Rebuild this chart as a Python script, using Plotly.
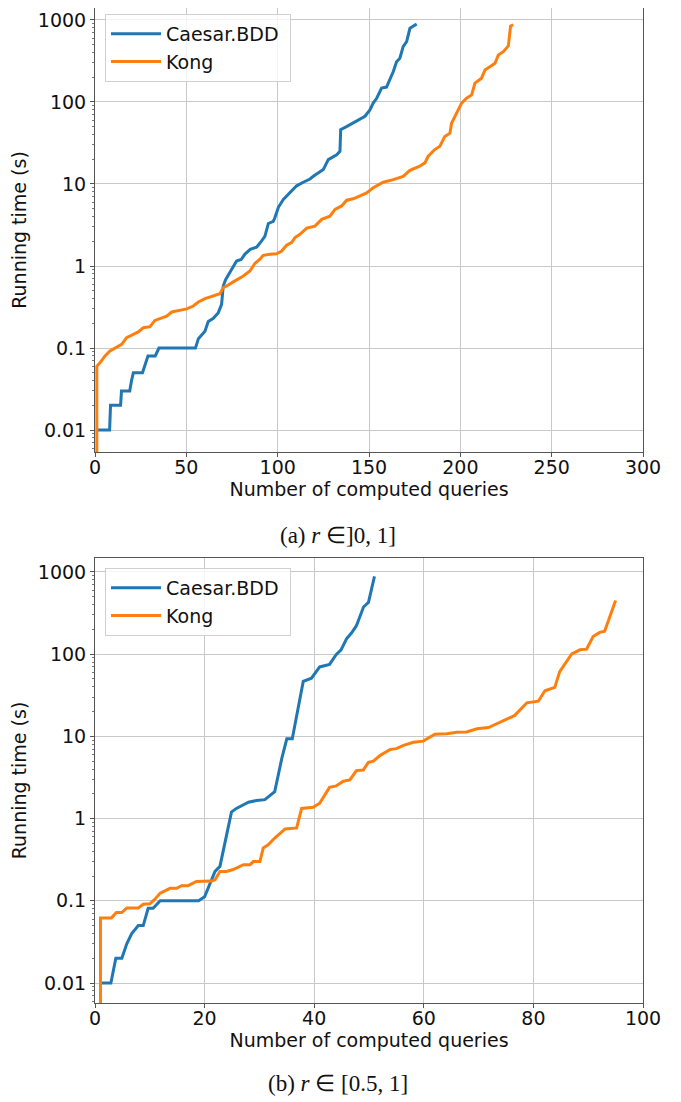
import plotly.graph_objects as go
from plotly.subplots import make_subplots

# ---- data ----
# (a) r in ]0,1]
a_caesar_x = [1, 8, 8.5, 14, 14.5, 19, 20, 21, 26, 27, 28, 29, 33, 35, 55, 56.6, 60.2, 62, 64.8, 67.5,
              69.3, 70.2, 71.5, 73.9, 75.5, 77.5, 80, 82.1, 85, 88.5, 91, 93, 94.9, 97.6, 98.5, 100.4,
              103.1, 106.7, 110.4, 114, 117.7, 119.5, 125, 127.7, 132.3, 134.1, 134.5, 137.7, 143.2,
              147.8, 150.5, 152.3, 154.2, 156.9, 159.6, 161.4, 163.3, 165.1, 166.9, 168.7, 170.6,
              172.4, 174.2, 176.1]
a_caesar_y = [0.01, 0.01, 0.02, 0.02, 0.03, 0.03, 0.04, 0.05, 0.05, 0.06, 0.07, 0.08, 0.08, 0.1, 0.1,
              0.13, 0.16, 0.21, 0.23, 0.27, 0.34, 0.57, 0.68, 0.83, 0.95, 1.15, 1.2, 1.4, 1.6, 1.7,
              2.0, 2.3, 3.3, 3.5, 3.9, 5.2, 6.5, 7.9, 9.5, 10.5, 11.5, 12.4, 15, 19.8, 22.7, 25, 46,
              50, 58, 67, 80, 97, 111, 148, 152, 186, 235, 310, 342, 473, 544, 792, 845, 895]

a_kong_x = [1, 1, 2.7, 5.5, 8.2, 11.9, 14.6, 17.3, 20.1, 23.7, 26.5, 30.1, 32.8, 35.6, 39.2, 42, 46.5,
            50.2, 53.8, 56.6, 60.2, 64.8, 68.4, 70.2, 72.1, 75.7, 78.4, 81.2, 84.8, 87.6, 90.3, 92.1,
            95.8, 99.4, 102.2, 104.9, 107.6, 109.5, 112.2, 115.9, 120.4, 124.1, 128.6, 131.4, 135,
            137.8, 141.4, 145, 148.7, 152.3, 157.8, 163.3, 168.7, 172.4, 177.8, 180.6, 182.4, 186,
            188.8, 191.5, 194.3, 195.2, 197.9, 200.7, 203.4, 206.2, 208, 211.6, 213.5, 216.2, 219,
            220.8, 223.5, 226.3, 227.5, 229]
a_kong_y = [0.001, 0.060, 0.066, 0.080, 0.092, 0.103, 0.111, 0.134, 0.143, 0.157, 0.177, 0.182, 0.217,
            0.228, 0.245, 0.275, 0.29, 0.30, 0.325, 0.364, 0.40, 0.43, 0.46, 0.545, 0.57, 0.64, 0.69,
            0.755, 0.87, 1.08, 1.21, 1.35, 1.39, 1.41, 1.52, 1.79, 1.93, 2.22, 2.43, 2.9, 3.06, 3.7,
            4.05, 4.9, 5.4, 6.35, 6.6, 7.1, 7.8, 9.0, 10.5, 11.3, 12.4, 14.7, 16.5, 18.1, 21.8, 26.3,
            28.9, 38, 41.7, 55, 73, 97, 111, 122, 170, 195, 246, 270, 297, 375, 411, 483, 845, 870]

# (b) r in [0.5,1]
b_caesar_x = [1, 2.9, 3.8, 4.9, 5.8, 6.7, 7.9, 8.8, 9.7, 10.6, 11.9, 18.9, 20, 21, 21.9, 22.8, 24, 24.9,
              25.8, 26.8, 28, 29.5, 31, 32.8, 34.1, 35, 36, 38, 39.5, 41, 42.8, 44, 44.9, 45.9, 46.8,
              47.7, 49, 49.9, 51]
b_caesar_y = [0.01, 0.01, 0.02, 0.02, 0.03, 0.04, 0.05, 0.05, 0.081, 0.081, 0.1, 0.1, 0.112, 0.164,
              0.228, 0.262, 0.61, 1.2, 1.33, 1.43, 1.58, 1.66, 1.7, 2.13, 5.45, 9.35, 9.35, 46.6, 51,
              70, 75, 98.6, 113, 154, 181, 222, 375, 427, 885]

b_kong_x = [1, 1, 3, 3.9, 4.9, 5.8, 7.9, 8.8, 10, 10.9, 11.9, 13.7, 14.9, 15.8, 17, 18.5, 21.3, 21.9,
            22.8, 24, 25.2, 27.1, 28.3, 28.9, 30.1, 30.7, 31.6, 32.8, 34.7, 36.8, 37.7, 39.8, 41,
            42.8, 44, 45.3, 46.5, 47.7, 48.96, 49.9, 50.8, 52, 53.8, 55, 56.3, 58.1, 59.9, 62, 64.2,
            66, 67.8, 69.7, 71.8, 73.3, 75.1, 76.6, 78.8, 80.9, 82.1, 83.9, 84.8, 87, 88.5, 89.7,
            90.9, 92.1, 93, 95]
b_kong_y = [0.001, 0.062, 0.062, 0.072, 0.072, 0.082, 0.082, 0.091, 0.092, 0.104, 0.124, 0.142, 0.142,
            0.153, 0.153, 0.172, 0.174, 0.18, 0.228, 0.228, 0.24, 0.275, 0.275, 0.30, 0.30, 0.44,
            0.48, 0.58, 0.75, 0.77, 1.33, 1.37, 1.54, 2.4, 2.5, 2.85, 2.95, 3.84, 3.9, 4.85, 5.0,
            5.85, 6.9, 7.1, 7.77, 8.5, 8.75, 10.6, 10.8, 11.2, 11.3, 12.4, 12.8, 14.3, 16.4, 18,
            25.6, 26.8, 35.9, 39.4, 61.4, 101, 113, 115, 164, 184, 190, 450]

y_tickvals = [0.01, 0.1, 1, 10, 100, 1000]
y_ticktext = ["0.01", "0.1", "1", "10", "100", "1000"]
series_names = ["Caesar.BDD", "Kong"]
captions = ["(a) <i>r</i> ∈]0, 1]", "(b) <i>r</i> ∈ [0.5, 1]"]

BLUE = "#1f77b4"
ORANGE = "#ff7f0e"
FONT = "DejaVu Sans"

# page has an 8px body margin: figure is drawn offset by (8, 8)
OFF = 8
W, H = 681 - OFF, 1102 - OFF
ML, MR, MT = 95 - OFF, 38, 0
MB = H - (1003 - OFF)          # bottom of lower plot at page y=1003
PH = H - MT - MB
PW = W - ML - MR


def py(y_page):
    return (H - MB - (y_page - OFF)) / PH


def px(x_page):
    return (x_page - OFF - ML) / PW


minor_vals = [m * 10 ** e for e in range(-3, 4) for m in range(2, 10)]

fig = make_subplots(rows=2, cols=1)
fig.update_layout(
    yaxis=dict(domain=[py(452), 1.0]),
    yaxis2=dict(domain=[0.0, py(558)]),
)

panels = [
    (1, a_caesar_x, a_caesar_y, a_kong_x, a_kong_y, "legend"),
    (2, b_caesar_x, b_caesar_y, b_kong_x, b_kong_y, "legend2"),
]
for row, cx, cy, kx, ky, leg in panels:
    fig.add_trace(go.Scatter(x=cx, y=cy, mode="lines", name=series_names[0] + "\u00a0",
                             line=dict(color=BLUE, width=3), legend=leg), row=row, col=1)
    fig.add_trace(go.Scatter(x=kx, y=ky, mode="lines", name=series_names[1],
                             line=dict(color=ORANGE, width=3), legend=leg), row=row, col=1)

common_x = dict(showgrid=True, gridcolor="#c8c8c8", gridwidth=1, showline=True, mirror=True,
                linecolor="#555", linewidth=1, ticks="outside", ticklen=4, tickcolor="#555",
                zeroline=False, tickfont=dict(family=FONT, size=19, color="#111"),
                ticklabelstandoff=-6,
                title=dict(text="Number of computed queries", font=dict(family=FONT, size=19, color="#111"),
                           standoff=0))
common_y = dict(type="log", tickvals=y_tickvals, ticktext=y_ticktext,
                showgrid=True, gridcolor="#c8c8c8", gridwidth=1, showline=True, mirror=True,
                linecolor="#555", linewidth=1, ticks="outside", ticklen=4, tickcolor="#555",
                zeroline=False, tickfont=dict(family=FONT, size=19, color="#111"),
                minor=dict(tickvals=minor_vals, ticks="outside", ticklen=2, tickcolor="#777",
                           showgrid=False),
                title=dict(text="Running time (s)", font=dict(family=FONT, size=19, color="#111"),
                           standoff=14))

fig.update_xaxes(common_x)
fig.update_yaxes(common_y)
fig.update_xaxes(range=[0, 300], tickvals=[0, 50, 100, 150, 200, 250, 300], row=1, col=1)
fig.update_xaxes(range=[0, 100], tickvals=[0, 20, 40, 60, 80, 100], row=2, col=1)
fig.update_yaxes(range=[-2.268, 3.146], row=1, col=1)
fig.update_yaxes(range=[-2.243, 3.17], row=2, col=1)

legend_style = dict(font=dict(family=FONT, size=19, color="#111"), bgcolor="rgba(255,255,255,0.8)",
                    bordercolor="#d0d0d0", borderwidth=1, xanchor="left", yanchor="top",
                    xref="paper", yref="paper", tracegroupgap=0, itemwidth=50)
fig.update_layout(
    width=W, height=H, margin=dict(l=ML, r=MR, t=MT, b=MB),
    paper_bgcolor="white", plot_bgcolor="white",
    legend=dict(legend_style, x=px(105), y=py(14)),
    legend2=dict(legend_style, x=px(105), y=py(568)),
    showlegend=True,
)

for cap, ypix in zip(captions, [535, 1083]):
    fig.add_annotation(text=cap, xref="paper", yref="paper", x=px(338), y=py(ypix),
                       xanchor="center", yanchor="middle", showarrow=False,
                       font=dict(family="Liberation Serif", size=23, color="#111"))

fig.write_html("out.html")
